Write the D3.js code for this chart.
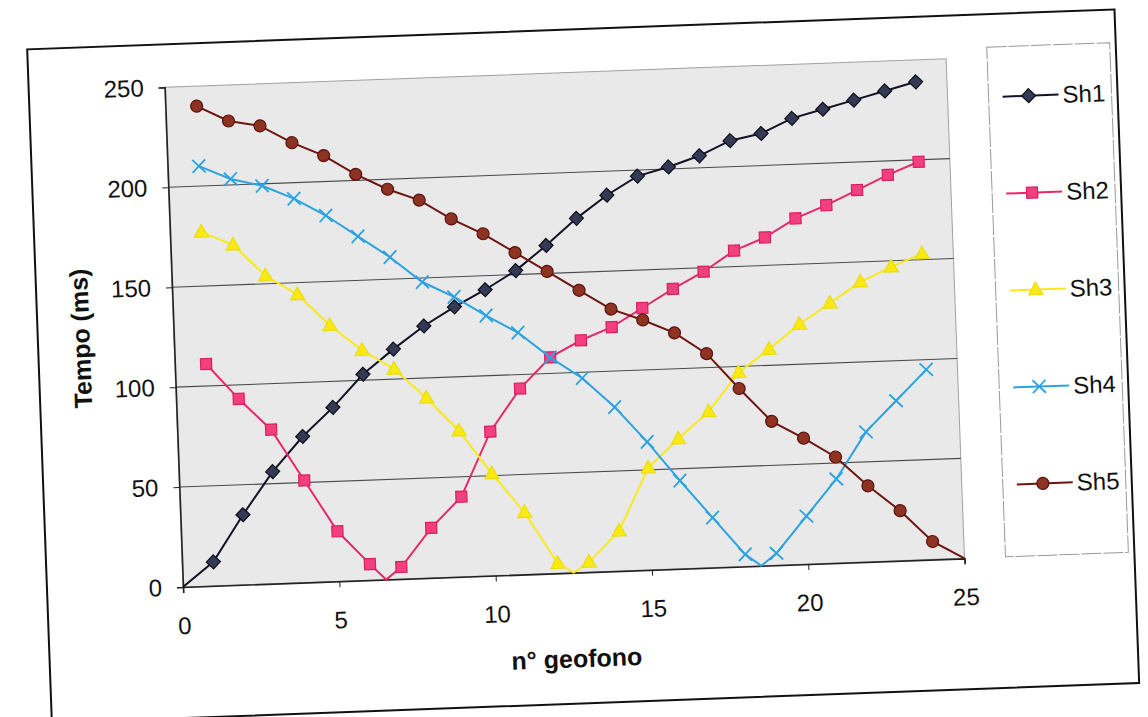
<!DOCTYPE html>
<meta charset="utf-8" />
<style>
    body {
        margin: 0;
        background: #ffffff;
    }

    text {
        font-family: Arial, 'Liberation Sans', sans-serif;
        fill: #111;
    }

    .axis-title {
        font-weight: bold;
    }
</style>

<svg width="1148" height="717"></svg>

<script src="https://d3js.org/d3.v7.min.js"></script>
<script>
    // geophone positions and shot positions (the shot point has time 0)
    const geofoni = [1, 2, 3, 4, 5, 6, 7, 8, 9, 10, 11, 12, 13, 14, 15, 16, 17, 18, 19, 20, 21, 22, 23, 24];
    const shotPos = [0, 6.5, 12.5, 18.5, 25];
    const seriesNames = ['Sh1', 'Sh2', 'Sh3', 'Sh4', 'Sh5'];

    const sh1 = [12, 35, 56, 73, 87, 103, 115, 126, 135, 143, 152, 164, 177, 188, 197, 201, 206, 213, 216, 223, 227, 231, 235, 239];
    const sh2 = [111, 93, 77, 51, 25, 8, 6, 25, 40, 72, 93, 108, 116, 122, 131, 140, 148, 158, 164, 173, 179, 186, 193, 199];
    const sh3 = [177, 170, 154, 144, 128, 115, 105, 90, 73, 51, 31, 5, 5, 20, 51, 65, 78, 97, 108, 120, 130, 140, 147, 153];
    const sh4 = [210, 203, 199, 192, 183, 172, 161, 148, 140, 130, 121, 108, 97, 82, 64, 44, 25, 6, 6, 24, 42, 65, 80, 95];
    const sh5 = [240, 232, 229, 220, 213, 203, 195, 189, 179, 171, 161, 151, 141, 131, 125, 118, 107, 89, 72, 63, 53, 38, 25, 9];

    const xTicks = [0, 5, 10, 15, 20, 25];
    const yTicks = [0, 50, 100, 150, 200, 250];

    const seriesValues = [sh1, sh2, sh3, sh4, sh5];

    const styles = [
        { line: '#121226', fill: '#343a56', stroke: '#0d0d18', shape: 'diamond' },
        { line: '#e8286c', fill: '#f2407f', stroke: '#d81e62', shape: 'square' },
        { line: '#f7ea1c', fill: '#fbea10', stroke: '#e9dc10', shape: 'triangle' },
        { line: '#2aa3e0', fill: 'none', stroke: '#2aa3e0', shape: 'cross' },
        { line: '#6e1410', fill: '#8e3322', stroke: '#5a120e', shape: 'circle' },
    ];

    function markerPath(shape) {
        switch (shape) {
            case 'diamond':
                return 'M0,-7L7,0L0,7L-7,0Z';
            case 'square':
                return 'M-5.5,-5.5H5.5V5.5H-5.5Z';
            case 'triangle':
                return 'M0,-7.5L7,5L-7,5Z';
            case 'cross':
                return 'M-6.5,-6.5L6.5,6.5M-6.5,6.5L6.5,-6.5';
            default:
                return d3.symbol(d3.symbolCircle, 113)();
        }
    }

    const plotW = 782;
    const plotH = 500;

    const x = d3.scaleLinear().domain([0, 25]).range([0, plotW]);
    const y = d3.scaleLinear().domain([0, 250]).range([plotH, 0]);

    const svg = d3.select('svg');

    // the scanned page is slightly tilted
    const g = svg.append('g').attr('transform', `translate(183,${587 - plotH}) rotate(-2.1, 0, ${plotH})`);

    // outer chart frame
    g.append('rect')
        .attr('x', -136)
        .attr('y', plotH - 543)
        .attr('width', 1088)
        .attr('height', 674)
        .attr('fill', 'none')
        .attr('stroke', '#111')
        .attr('stroke-width', 2);

    // plot area
    g.append('rect')
        .attr('x', 0)
        .attr('y', 0)
        .attr('width', plotW)
        .attr('height', plotH)
        .attr('fill', '#e9e9e9')
        .attr('stroke', '#a0a0a0')
        .attr('stroke-width', 1);

    g.append('g')
        .selectAll('line')
        .data(yTicks.filter(d => d > 0 && d < 250))
        .enter()
        .append('line')
        .attr('x1', 0)
        .attr('x2', plotW)
        .attr('y1', d => y(d))
        .attr('y2', d => y(d))
        .attr('stroke', '#4a4a4a')
        .attr('stroke-width', 1.1);

    const xAxis = g
        .append('g')
        .attr('transform', `translate(0,${plotH})`)
        .call(d3.axisBottom(x).tickValues(xTicks).tickSize(6).tickPadding(24));
    xAxis.select('.domain').attr('stroke', '#222').attr('stroke-width', 1.6);
    xAxis.selectAll('.tick line').attr('stroke', '#222');
    xAxis.selectAll('.tick text').style('font-size', '24px').attr('fill', '#111').attr('font-family', null);

    const yAxis = g.append('g').call(d3.axisLeft(y).tickValues(yTicks).tickSize(6).tickPadding(15));
    yAxis.select('.domain').attr('stroke', '#222').attr('stroke-width', 1.6);
    yAxis.selectAll('.tick line').attr('stroke', '#222');
    yAxis.selectAll('.tick text').style('font-size', '24px').attr('fill', '#111').attr('font-family', null);

    g.append('text')
        .attr('class', 'axis-title')
        .attr('x', x(12.5))
        .attr('y', plotH + 86)
        .attr('dy', '0.35em')
        .attr('text-anchor', 'middle')
        .style('font-size', '25px')
        .text('n° geofono');

    g.append('text')
        .attr('class', 'axis-title')
        .attr('transform', `translate(-93,${y(126)}) rotate(-90)`)
        .attr('dy', '0.35em')
        .attr('text-anchor', 'middle')
        .style('font-size', '25px')
        .text('Tempo (ms)');

    const line = d3
        .line()
        .x(d => x(d.x))
        .y(d => y(d.y));

    seriesValues.forEach((vals, i) => {
        const st = styles[i];
        const pts = geofoni.map((gx, j) => ({ x: gx, y: vals[j] }));
        const all = pts.concat([{ x: shotPos[i], y: 0 }]).sort((a, b) => a.x - b.x);

        g.append('path')
            .datum(all)
            .attr('d', line)
            .attr('fill', 'none')
            .attr('stroke', st.line)
            .attr('stroke-width', 2);

        g.append('g')
            .selectAll('path')
            .data(pts)
            .enter()
            .append('path')
            .attr('transform', d => `translate(${x(d.x)},${y(d.y)})`)
            .attr('d', markerPath(st.shape))
            .attr('fill', st.fill)
            .attr('stroke', st.stroke)
            .attr('stroke-width', st.shape === 'cross' ? 1.8 : 1.2);
    });

    // legend
    const legend = g.append('g').attr('transform', `translate(823,${plotH - 510})`);
    legend
        .append('rect')
        .attr('width', 123)
        .attr('height', 510)
        .attr('fill', '#ffffff')
        .attr('stroke', '#999')
        .attr('stroke-width', 1)
        .attr('stroke-dasharray', '20,2');

    const rows = legend
        .selectAll('.row')
        .data(seriesNames)
        .enter()
        .append('g')
        .attr('class', 'row')
        .attr('transform', (d, i) => `translate(0,${50 + i * 97})`);

    rows.append('line')
        .attr('x1', 14)
        .attr('x2', 70)
        .attr('stroke', (d, i) => styles[i].line)
        .attr('stroke-width', 2);

    rows.append('path')
        .attr('transform', 'translate(40,0)')
        .attr('d', (d, i) => markerPath(styles[i].shape))
        .attr('fill', (d, i) => styles[i].fill)
        .attr('stroke', (d, i) => styles[i].stroke)
        .attr('stroke-width', (d, i) => (styles[i].shape === 'cross' ? 1.8 : 1.2));

    rows.append('text')
        .attr('x', 74)
        .attr('dy', '0.35em')
        .style('font-size', '24px')
        .text(d => d);
</script>
